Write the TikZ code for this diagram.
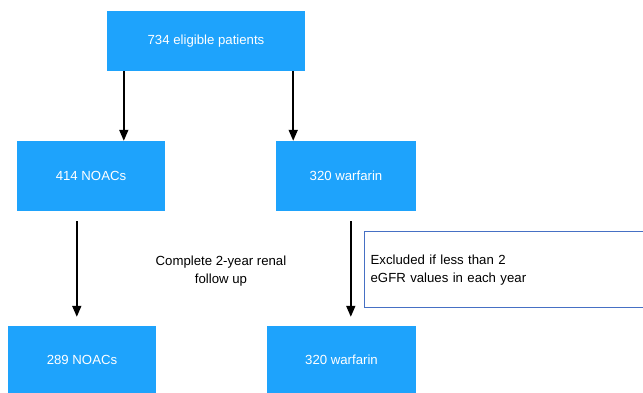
\documentclass[tikz,border=0pt]{standalone}
\usepackage{fontspec}
\setmainfont{Liberation Sans}
\usetikzlibrary{arrows.meta}
\definecolor{boxblue}{RGB}{30,163,252}
\definecolor{noteblue}{RGB}{70,112,196}
\tikzset{
  flowbox/.style={draw=none, fill=boxblue, text=white, font=\fontsize{13.2}{16}\selectfont,
    minimum width=148pt, minimum height=70pt, inner sep=0pt},
  flowarrow/.style={line width=1.7pt, -{Triangle[length=11pt,width=9pt]}},
  flowtext/.style={font=\fontsize{13.2}{18}\selectfont, align=center},
  notebox/.style={draw=noteblue, line width=1.3pt, font=\fontsize{13.2}{18}\selectfont,
    align=left, text width=276pt, minimum height=76pt, inner xsep=6pt, anchor=north west}
}
\begin{document}
\begin{tikzpicture}[x=1pt,y=-1pt]
    \clip (0,0) rectangle (643,393);
    \fill[white] (0,0) rectangle (643,393);
    \node[flowbox, minimum width=198pt, minimum height=60pt] (elig) at (206,41) {734 eligible patients};
    \node[flowbox] (noac) at (91,176) {414 NOACs};
    \node[flowbox, minimum width=140pt] (warf) at (346,176) {320 warfarin};
    \node[flowbox, minimum height=68pt] (noacfu) at (82,360) {289 NOACs};
    \node[flowbox, minimum width=149pt, minimum height=68pt] (warffu) at (341.5,360) {320 warfarin};
    \node[flowtext] (renal) at (221,271) {Complete 2-year renal\\follow up};
    \node[notebox] (excl) at (364,231) {Excluded if less than 2\\eGFR values in each year};
    % arrows
    \draw[flowarrow] ([xshift=17pt]elig.south west) -- ([xshift=17pt]elig.south west |- noac.north);
    \draw[flowarrow] ([xshift=-12pt]elig.south east) -- ([xshift=-12pt]elig.south east |- warf.north);
    \draw[flowarrow, shorten <=10pt, shorten >=9pt] ([xshift=60pt]noac.south west) -- ([xshift=60pt]noac.south west |- noacfu.north);
    \draw[flowarrow, shorten <=10pt, shorten >=9pt] ([xshift=75pt]warf.south west) -- ([xshift=75pt]warf.south west |- warffu.north);
\end{tikzpicture}
\end{document}
